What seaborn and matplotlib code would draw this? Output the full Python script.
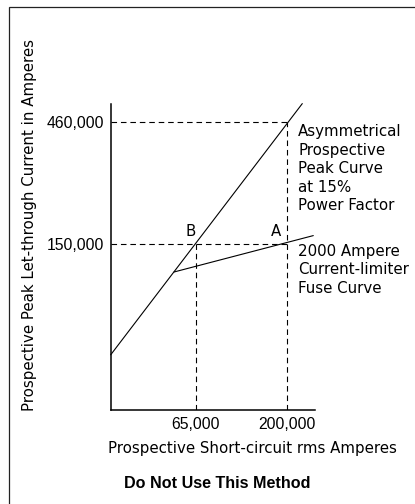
import matplotlib
matplotlib.use("Agg")
import matplotlib.pyplot as plt
import seaborn as sns
from matplotlib.patches import Rectangle

sns.set_style("white")
plt.rcParams['font.family'] = ['Liberation Sans', 'DejaVu Sans']
plt.rcParams['text.color'] = 'black'
plt.rcParams['axes.labelcolor'] = 'black'

# Schematic (not-to-scale) chart: positions in schematic units
x_tick_pos = [85.0, 176.6]
x_tick_labels = ["65,000", "200,000"]
y_tick_pos = [166.3, 288.3]
y_tick_labels = ["150,000", "460,000"]

# Asymmetrical prospective peak curve (straight line)
peak_x = [0.0, 191.6]
peak_y = [55.5, 306.7]
# 2000 A current-limiting fuse curve (after the break point)
fuse_x = [63.3, 202.6]
fuse_y = [138.3, 174.7]

# Points B and A
pt_labels = ["B", "A"]
pt_x = [85.0, 176.6]
pt_y = [166.3, 166.3]

W, H = 415, 504
fig = plt.figure(figsize=(W / 100, H / 100), dpi=100)
ax0x, ax0y, ax1x, ax1y = 110.7, 410.3, 315.0, 104.0
ax = fig.add_axes([ax0x / W, (H - ax0y) / H, (ax1x - ax0x) / W, (ax0y - ax1y) / H])
ax.set_xlim(0, ax1x - ax0x)
ax.set_ylim(0, ax0y - ax1y)

lw = 0.8
sns.lineplot(x=peak_x, y=peak_y, ax=ax, color="black", lw=lw, clip_on=False)
sns.lineplot(x=fuse_x, y=fuse_y, ax=ax, color="black", lw=lw, clip_on=False)

dash = (5, 3.5)
ax.plot([0, x_tick_pos[1]], [y_tick_pos[1], y_tick_pos[1]], color="black", lw=lw, dashes=dash)
ax.plot([0, x_tick_pos[1]], [y_tick_pos[0], y_tick_pos[0]], color="black", lw=lw, dashes=dash)
ax.plot([x_tick_pos[1], x_tick_pos[1]], [0, y_tick_pos[1]], color="black", lw=lw, dashes=dash)
ax.plot([x_tick_pos[0], x_tick_pos[0]], [0, y_tick_pos[0]], color="black", lw=lw, dashes=dash)

TXT = dict(family=['DejaVu Sans'], fontsize=10.8, color="black")

label_dx = [-4.7, -11.3]
for lab, px, py, dx in zip(pt_labels, pt_x, pt_y, label_dx):
    ax.text(px + dx, py + 5, lab, ha="center", va="bottom", **TXT)

ax.set_xticks(x_tick_pos)
ax.set_xticklabels(x_tick_labels)
ax.set_yticks(y_tick_pos)
ax.set_yticklabels(y_tick_labels)
ax.tick_params(axis="both", length=0, labelsize=11.3, colors="black")
ax.tick_params(axis="x", pad=5)
ax.tick_params(axis="y", pad=5)
for s in ["top", "right"]:
    ax.spines[s].set_visible(False)
for s in ["left", "bottom"]:
    ax.spines[s].set_color("black")
    ax.spines[s].set_linewidth(1.1)

peak_lines = ["Asymmetrical", "Prospective", "Peak Curve", "at 15%", "Power Factor"]
fuse_lines = ["2000 Ampere", "Current-limiter", "Fuse Curve"]
for i, t in enumerate(peak_lines):
    fig.text(298 / W, 1 - (131.7 + i * 18.5) / H, t, ha="left", va="center", **TXT)
for i, t in enumerate(fuse_lines):
    fig.text(298 / W, 1 - (251.7 + i * 18.3) / H, t, ha="left", va="center", **TXT)

fig.text(30 / W, 1 - 225 / H, "Prospective Peak Let-through Current in Amperes",
         rotation=90, ha="center", va="center", **TXT)
fig.text(252 / W, 1 - 449 / H, "Prospective Short-circuit rms Amperes",
         ha="center", va="center", **TXT)
fig.text(217 / W, 1 - 483 / H, "Do Not Use This Method",
         ha="center", va="center", fontsize=11.6, fontweight="bold", color="black")

fig.patches.append(Rectangle((8.5 / W, -0.1), 1.2, 1 - 6.8 / H + 0.1, transform=fig.transFigure,
                             fill=False, edgecolor="#222222", lw=0.9))

fig.savefig("out.png", dpi=100)
